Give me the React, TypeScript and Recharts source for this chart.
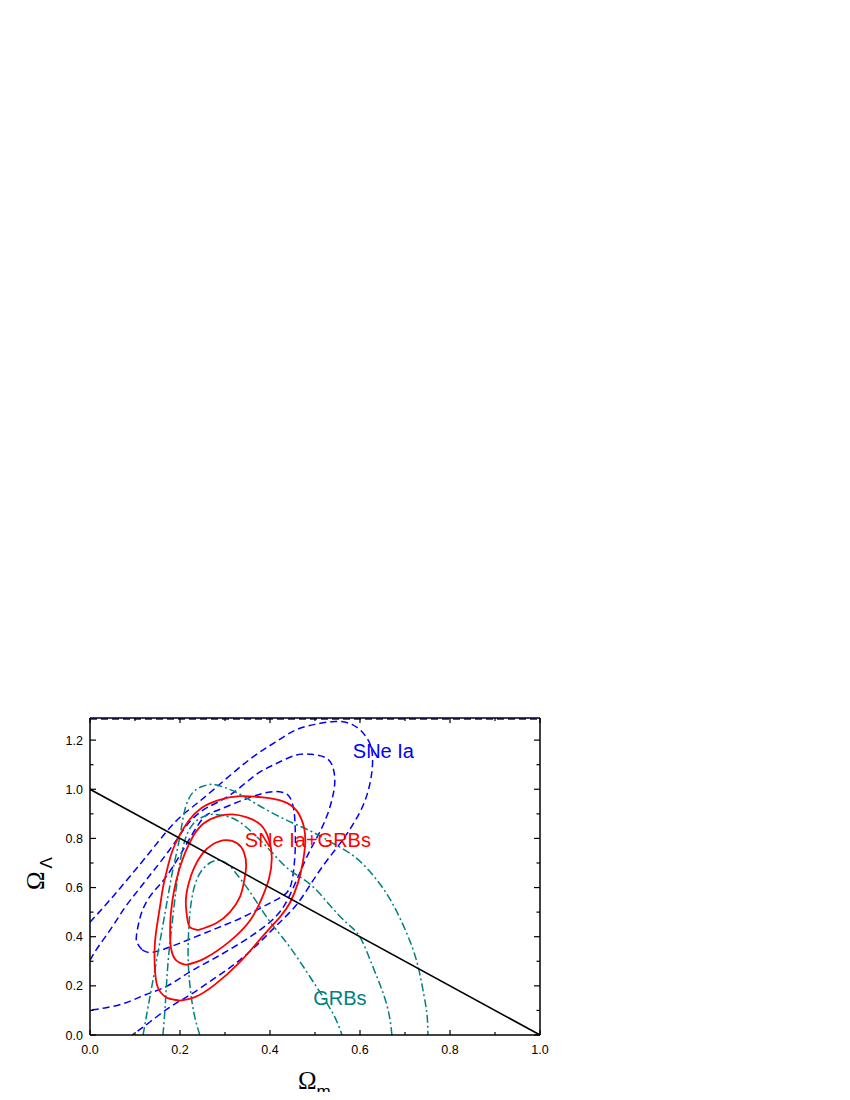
import React from 'react';
import { ComposedChart, Line, XAxis, YAxis, ReferenceDot } from 'recharts';

// ---- axis ticks ----
const xTickValues = [0, 0.1, 0.2, 0.3, 0.4, 0.5, 0.6, 0.7, 0.8, 0.9, 1.0];
const yTickValues = [0, 0.1, 0.2, 0.3, 0.4, 0.5, 0.6, 0.7, 0.8, 0.9, 1.0, 1.1, 1.2];
const xDomain = [0, 1];
const yDomain = [0, 1.29];

// ---- SNe Ia + GRBs (red, solid) ----
const redOuter = [
  [0.200, 0.140], [0.173, 0.150], [0.158, 0.171], [0.149, 0.203], [0.144, 0.276], [0.144, 0.366],
  [0.149, 0.447], [0.156, 0.528], [0.162, 0.598], [0.171, 0.671], [0.182, 0.744], [0.198, 0.809],
  [0.220, 0.874], [0.247, 0.923], [0.284, 0.955], [0.333, 0.972], [0.384, 0.967], [0.429, 0.951],
  [0.460, 0.911], [0.476, 0.841], [0.478, 0.772], [0.473, 0.703], [0.462, 0.618], [0.444, 0.537],
  [0.422, 0.480], [0.382, 0.398], [0.333, 0.297], [0.276, 0.203], [0.233, 0.154], [0.200, 0.140],
];
const redMiddle = [
  [0.213, 0.285], [0.191, 0.305], [0.180, 0.354], [0.178, 0.427], [0.180, 0.500], [0.187, 0.589],
  [0.198, 0.671], [0.211, 0.740], [0.229, 0.809], [0.253, 0.862], [0.284, 0.890], [0.316, 0.898],
  [0.349, 0.886], [0.380, 0.854], [0.398, 0.793], [0.404, 0.720], [0.398, 0.638], [0.382, 0.557],
  [0.356, 0.467], [0.311, 0.382], [0.256, 0.313], [0.213, 0.285],
];
const redInner = [
  [0.240, 0.427], [0.222, 0.439], [0.216, 0.476], [0.213, 0.549], [0.220, 0.622], [0.231, 0.679],
  [0.249, 0.736], [0.273, 0.776], [0.302, 0.793], [0.327, 0.780], [0.342, 0.744], [0.347, 0.687],
  [0.342, 0.622], [0.333, 0.561], [0.311, 0.500], [0.280, 0.455], [0.240, 0.427],
];

// ---- SNe Ia (blue, dashed) ----
const blueInner = [
  [0.116, 0.346], [0.140, 0.337], [0.200, 0.374], [0.282, 0.435], [0.340, 0.480], [0.400, 0.537],
  [0.438, 0.581], [0.451, 0.650], [0.456, 0.752], [0.456, 0.841], [0.453, 0.915], [0.444, 0.967],
  [0.427, 0.988], [0.396, 0.988], [0.356, 0.967], [0.311, 0.935], [0.273, 0.907], [0.251, 0.882],
  [0.222, 0.801], [0.196, 0.720], [0.167, 0.638], [0.144, 0.589], [0.124, 0.537], [0.111, 0.476],
  [0.104, 0.415], [0.104, 0.378], [0.116, 0.346],
];
const blueMiddle = [
  [0.000, 0.305], [0.018, 0.358], [0.049, 0.439], [0.078, 0.520], [0.107, 0.589], [0.133, 0.650],
  [0.156, 0.703], [0.184, 0.772], [0.207, 0.833], [0.229, 0.882], [0.262, 0.927], [0.311, 0.976],
  [0.367, 1.057], [0.411, 1.102], [0.456, 1.138], [0.493, 1.142], [0.522, 1.130], [0.538, 1.098],
  [0.544, 1.041], [0.540, 0.976], [0.527, 0.894], [0.507, 0.813], [0.487, 0.744], [0.467, 0.663],
  [0.444, 0.569], [0.416, 0.488], [0.362, 0.407], [0.289, 0.325], [0.244, 0.280], [0.204, 0.236],
  [0.167, 0.195], [0.122, 0.163], [0.078, 0.130], [0.033, 0.110], [0.000, 0.102],
];
const blueOuter = [
  [0.000, 0.459], [0.044, 0.549], [0.089, 0.646], [0.133, 0.744], [0.167, 0.821], [0.200, 0.886],
  [0.238, 0.943], [0.278, 1.004], [0.322, 1.073], [0.367, 1.138], [0.411, 1.191], [0.456, 1.240],
  [0.500, 1.264], [0.544, 1.276], [0.582, 1.264], [0.611, 1.220], [0.627, 1.150], [0.624, 1.041],
  [0.607, 0.935], [0.582, 0.850], [0.556, 0.780], [0.522, 0.699], [0.489, 0.610], [0.458, 0.528],
  [0.422, 0.459], [0.382, 0.386], [0.333, 0.305], [0.278, 0.232], [0.222, 0.163], [0.178, 0.114],
  [0.133, 0.053], [0.100, 0.008], [0.093, 0.000],
];
const blueTopEdge = [[0, 1.286], [1, 1.286]];

// ---- GRBs (teal, dash-dot) ----
const tealInner = [
  [0.244, 0.000], [0.231, 0.089], [0.222, 0.203], [0.218, 0.325], [0.220, 0.447], [0.224, 0.528],
  [0.233, 0.610], [0.249, 0.671], [0.269, 0.703], [0.289, 0.711], [0.311, 0.687], [0.333, 0.638],
  [0.356, 0.581], [0.382, 0.508], [0.411, 0.435], [0.444, 0.358], [0.482, 0.256], [0.518, 0.154],
  [0.544, 0.073], [0.560, 0.000],
];
const tealMiddle = [
  [0.162, 0.000], [0.167, 0.114], [0.173, 0.285], [0.182, 0.447], [0.191, 0.589], [0.200, 0.703],
  [0.211, 0.793], [0.227, 0.854], [0.249, 0.886], [0.273, 0.898], [0.304, 0.890], [0.333, 0.866],
  [0.367, 0.813], [0.404, 0.744], [0.444, 0.671], [0.489, 0.614], [0.533, 0.528], [0.571, 0.455],
  [0.600, 0.398], [0.627, 0.285], [0.649, 0.183], [0.664, 0.089], [0.671, 0.000],
];
const tealOuter = [
  [0.118, 0.000], [0.129, 0.114], [0.144, 0.264], [0.160, 0.427], [0.173, 0.561], [0.184, 0.671],
  [0.196, 0.772], [0.204, 0.854], [0.213, 0.931], [0.229, 0.988], [0.251, 1.012], [0.273, 1.020],
  [0.298, 1.008], [0.329, 0.984], [0.367, 0.943], [0.411, 0.898], [0.456, 0.858], [0.500, 0.821],
  [0.544, 0.776], [0.589, 0.724], [0.629, 0.650], [0.664, 0.561], [0.693, 0.459], [0.716, 0.358],
  [0.731, 0.264], [0.742, 0.163], [0.749, 0.081], [0.751, 0.000],
];

// ---- flat universe line ----
const flatLine = [[0, 1], [1, 0]];

// ---- text labels ----
const curveLabels = [
  { text: 'SNe Ia', x: 0.584, y: 1.126, color: '#0000ff' },
  { text: 'SNe Ia+GRBs', x: 0.344, y: 0.764, color: '#ff0000' },
  { text: 'GRBs', x: 0.496, y: 0.122, color: '#008080' },
];

const toPts = (a: number[][]) => a.map(([x, y]) => ({ x, y }));

const SANS = '"Liberation Sans", Arial, Helvetica, sans-serif';
const SERIF = '"Liberation Serif", "Times New Roman", serif';

const isMajor = (v: number) => Math.round(v * 10) % 2 === 0;

const BottomTick = (props: any) => {
  const { x, y, payload } = props;
  const v = payload.value;
  const major = isMajor(v);
  return (
    <g>
      <line x1={x} x2={x} y1={y} y2={y - (major ? 5 : 3)} stroke="#000" strokeWidth={1.2} />
      {major && (
        <text x={x} y={y + 18.5} textAnchor="middle" fontFamily={SANS} fontSize={12.5} fill="#000">
          {v.toFixed(1)}
        </text>
      )}
    </g>
  );
};
const TopTick = (props: any) => {
  const { x, y, payload } = props;
  const major = isMajor(payload.value);
  return <line x1={x} x2={x} y1={y} y2={y + (major ? 5 : 3)} stroke="#000" strokeWidth={1.2} />;
};
const LeftTick = (props: any) => {
  const { x, y, payload } = props;
  const v = payload.value;
  const major = isMajor(v);
  return (
    <g>
      <line x1={x} x2={x + (major ? 6 : 3.5)} y1={y} y2={y} stroke="#000" strokeWidth={1.2} />
      {major && (
        <text x={x - 7} y={y + 4.5} textAnchor="end" fontFamily={SANS} fontSize={12.5} fill="#000">
          {v.toFixed(1)}
        </text>
      )}
    </g>
  );
};
const RightTick = (props: any) => {
  const { x, y, payload } = props;
  const major = isMajor(payload.value);
  return <line x1={x} x2={x - (major ? 6 : 3.5)} y1={y} y2={y} stroke="#000" strokeWidth={1.2} />;
};

const makeLabel = (text: string, color: string) => (props: any) => {
  const vb = props.viewBox || {};
  const x = (vb.x ?? 0) + (vb.width ?? 0) / 2;
  const y = (vb.y ?? 0) + (vb.height ?? 0) / 2;
  return (
    <text x={x} y={y} fill={color} fontSize={20} fontFamily={SANS}>
      {text}
    </text>
  );
};

const W = 834;
const H = 1092;

export default function App() {
  const axisLine = { stroke: '#000', strokeWidth: 1.5 };
  const blueDash = '7 4';
  const tealDash = '8 3 2 3';
  return (
    <div style={{ position: 'relative', width: W, height: H, marginBottom: -8 }}>
      <ComposedChart
        width={W}
        height={H}
        margin={{ top: 700, left: 42, right: 292, bottom: 35 }}
        style={{ fontFamily: SANS }}
      >
        <XAxis
          xAxisId="b"
          dataKey="x"
          type="number"
          domain={xDomain}
          ticks={xTickValues}
          interval={0}
          allowDataOverflow
          tickSize={0}
          tickMargin={0}
          tickLine={false}
          axisLine={axisLine}
          tick={<BottomTick />}
          height={30}
        />
        <XAxis
          xAxisId="t"
          orientation="top"
          dataKey="x"
          type="number"
          domain={xDomain}
          ticks={xTickValues}
          interval={0}
          allowDataOverflow
          tickSize={0}
          tickMargin={0}
          tickLine={false}
          axisLine={axisLine}
          tick={<TopTick />}
          height={10}
        />
        <YAxis
          yAxisId="l"
          type="number"
          domain={yDomain}
          ticks={yTickValues}
          interval={0}
          allowDataOverflow
          tickSize={0}
          tickMargin={0}
          tickLine={false}
          axisLine={axisLine}
          tick={<LeftTick />}
          width={40}
        />
        <YAxis
          yAxisId="r"
          orientation="right"
          type="number"
          domain={yDomain}
          ticks={yTickValues}
          interval={0}
          allowDataOverflow
          tickSize={0}
          tickMargin={0}
          tickLine={false}
          axisLine={axisLine}
          tick={<RightTick />}
          width={10}
        />

        <Line xAxisId="b" yAxisId="l" data={toPts(blueTopEdge)} dataKey="y" type="linear" stroke="#0000ff" strokeWidth={1.5} strokeDasharray={blueDash} dot={false} isAnimationActive={false} />
        <Line xAxisId="b" yAxisId="l" data={toPts(blueOuter)} dataKey="y" type="natural" stroke="#0000ff" strokeWidth={1.5} strokeDasharray={blueDash} dot={false} isAnimationActive={false} />
        <Line xAxisId="b" yAxisId="l" data={toPts(blueMiddle)} dataKey="y" type="natural" stroke="#0000ff" strokeWidth={1.5} strokeDasharray={blueDash} dot={false} isAnimationActive={false} />
        <Line xAxisId="b" yAxisId="l" data={toPts(blueInner)} dataKey="y" type="natural" stroke="#0000ff" strokeWidth={1.5} strokeDasharray={blueDash} dot={false} isAnimationActive={false} />

        <Line xAxisId="b" yAxisId="l" data={toPts(tealOuter)} dataKey="y" type="natural" stroke="#008080" strokeWidth={1.5} strokeDasharray={tealDash} dot={false} isAnimationActive={false} />
        <Line xAxisId="b" yAxisId="l" data={toPts(tealMiddle)} dataKey="y" type="natural" stroke="#008080" strokeWidth={1.5} strokeDasharray={tealDash} dot={false} isAnimationActive={false} />
        <Line xAxisId="b" yAxisId="l" data={toPts(tealInner)} dataKey="y" type="natural" stroke="#008080" strokeWidth={1.5} strokeDasharray={tealDash} dot={false} isAnimationActive={false} />

        <Line xAxisId="b" yAxisId="l" data={toPts(redOuter)} dataKey="y" type="natural" stroke="#ff0000" strokeWidth={1.8} dot={false} isAnimationActive={false} />
        <Line xAxisId="b" yAxisId="l" data={toPts(redMiddle)} dataKey="y" type="natural" stroke="#ff0000" strokeWidth={1.8} dot={false} isAnimationActive={false} />
        <Line xAxisId="b" yAxisId="l" data={toPts(redInner)} dataKey="y" type="natural" stroke="#ff0000" strokeWidth={1.8} dot={false} isAnimationActive={false} />

        <Line xAxisId="t" yAxisId="r" data={toPts(flatLine)} dataKey="y" type="linear" stroke="#000" strokeWidth={1.6} dot={false} isAnimationActive={false} />

        {curveLabels.map((l) => (
          <ReferenceDot
            key={l.text}
            xAxisId="b"
            yAxisId="l"
            x={l.x}
            y={l.y}
            r={0}
            fill="none"
            stroke="none"
            label={makeLabel(l.text, l.color)}
          />
        ))}
      </ComposedChart>

      <svg
        width={W}
        height={H}
        style={{ position: 'absolute', left: 0, top: 0, overflow: 'visible', pointerEvents: 'none' }}
      >
        <text x={290} y={1081} fontFamily={SERIF} fontSize={25} fill="#000">
          Ω
          <tspan fontFamily={SANS} fontSize={17} dy={8}>m</tspan>
        </text>
        <text x={36} y={882} fontFamily={SERIF} fontSize={25} fill="#000" transform="rotate(-90 36 882)">
          Ω
          <tspan fontFamily={SANS} fontSize={17} dy={8} dx={3}>Λ</tspan>
        </text>
      </svg>
    </div>
  );
}
